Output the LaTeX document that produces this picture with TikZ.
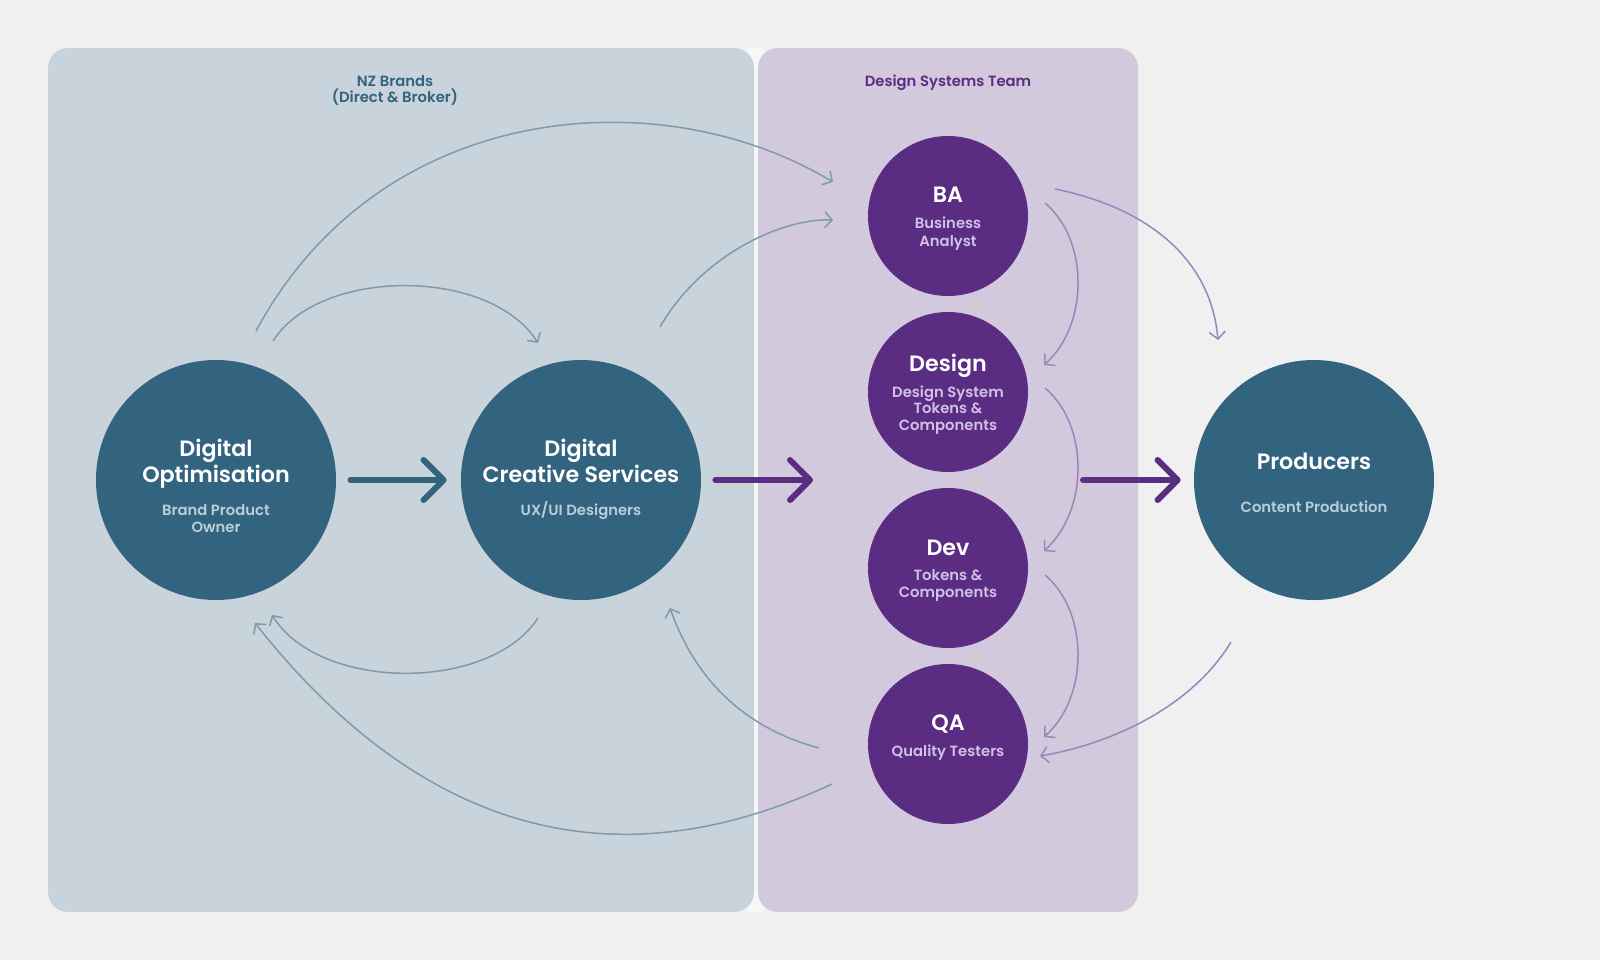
\documentclass[tikz,border=0pt]{standalone}
\usepackage{fontspec}
\usetikzlibrary{arrows.meta,calc}
\IfFontExistsTF{Poppins SemiBold}{\newfontfamily\semibf{Poppins SemiBold}}{\newfontfamily\semibx{Poppins}\newcommand\semibf{\semibx\bfseries}}
\IfFontExistsTF{Poppins Medium}{\newfontfamily\medf{Poppins Medium}}{\newfontfamily\medf{Poppins}}
\definecolor{bgc}{HTML}{F0F0F0}
\definecolor{gapc}{HTML}{F6F7F7}
\definecolor{lpanel}{HTML}{C9D3DB}
\definecolor{ppanel}{HTML}{D3C9DC}
\definecolor{tealc}{HTML}{33647F}
\definecolor{purpc}{HTML}{5A2C82}
\definecolor{thinb}{HTML}{7E9AAC}
\definecolor{thinp}{HTML}{9B85BB}
\definecolor{tsub}{HTML}{BACDDA}
\definecolor{psub}{HTML}{D2C0E6}
\tikzset{
  tcirc/.style={circle,fill=tealc,minimum size=120pt,inner sep=0pt,draw=none},
  pcirc/.style={circle,fill=purpc,minimum size=80pt,inner sep=0pt,draw=none},
  ttl/.style={anchor=base,inner sep=0pt,text=white,font=\semibf\fontsize{11.1pt}{13pt}\selectfont},
  tsubt/.style={anchor=base,inner sep=0pt,text=tsub,font=\semibf\fontsize{7.4pt}{9pt}\selectfont},
  psubt/.style={anchor=base,inner sep=0pt,text=psub,font=\semibf\fontsize{7.4pt}{9pt}\selectfont},
  head/.style={anchor=base,inner sep=0pt,font=\semibf\fontsize{7.4pt}{9pt}\selectfont},
  thinblue/.style={draw=thinb,line width=0.75pt,-{Straight Barb[length=3.6pt,width=8pt]}},
  thinpurp/.style={draw=thinp,line width=0.75pt,-{Straight Barb[length=3.6pt,width=8pt]}},
  thickarr/.style={line width=3pt,line cap=round,-{Straight Barb[length=10pt,width=20pt,round]}},
}
\begin{document}
\begin{tikzpicture}[x=0.5pt,y=-0.5pt]
\fill[bgc] (0,0) rectangle (1600,960);
\useasboundingbox (0,0) rectangle (1600,960);
% panels
\fill[gapc] (748,48) rectangle (764,912);
\fill[lpanel,rounded corners=10pt] (48,48) rectangle (754,912);
\fill[ppanel,rounded corners=10pt] (758,48) rectangle (1138,912);
% headings
\node[head,text=tealc] (h1a) at (395,86) {NZ Brands};
\node[head,text=tealc] (h1b) at (395,102) {(Direct \& Broker)};
\node[head,text=purpc] (h2) at (948,86) {Design Systems Team};
% circles
\node[tcirc] (do) at (216,480) {};
\node[tcirc] (dcs) at (581,480) {};
\node[tcirc] (prod) at (1314,480) {};
\node[pcirc] (ba) at (948,216) {};
\node[pcirc] (des) at (948,392) {};
\node[pcirc] (dev) at (948,568) {};
\node[pcirc] (qa) at (948,744) {};
% circle texts
\node[ttl] (do1) at (216,456) {Digital};
\node[ttl] (do2) at (216,482) {Optimisation};
\node[tsubt] (do3) at (216,515) {Brand Product};
\node[tsubt] (do4) at (216,532) {Owner};
\node[ttl] (dcs1) at (581,456) {Digital};
\node[ttl] (dcs2) at (581,482) {Creative Services};
\node[tsubt] (dcs3) at (581,515) {UX/UI Designers};
\node[ttl] (prod1) at (1314,469) {Producers};
\node[tsubt] (prod2) at (1314,512) {Content Production};
\node[ttl] (ba1) at (948,202) {BA};
\node[psubt] (ba2) at (948,228) {Business};
\node[psubt] (ba3) at (948,246) {Analyst};
\node[ttl] (des1) at (948,371) {Design};
\node[psubt] (des2) at (948,397) {Design System};
\node[psubt] (des3) at (948,413) {Tokens \&};
\node[psubt] (des4) at (948,430) {Components};
\node[ttl] (dev1) at (948,555) {Dev};
\node[psubt] (dev2) at (948,580) {Tokens \&};
\node[psubt] (dev3) at (948,597) {Components};
\node[ttl] (qa1) at (948,730) {QA};
\node[psubt] (qa2) at (948,756) {Quality Testers};
% connector end points
\coordinate (a1s) at (256,331);
\coordinate (a1e) at (833,182);
\coordinate (a2s) at (273,341);
\coordinate (a2e) at (538,343);
\coordinate (a3s) at (660,327);
\coordinate (a3e) at (833,220);
\coordinate (a4s) at (538,618);
\coordinate (a4e) at (272,615);
\coordinate (a5s) at (832,784);
\coordinate (a5e) at (255,623);
\coordinate (a6s) at (819,748);
\coordinate (a6e) at (670,608);
\coordinate (p1s) at (1055,189);
\coordinate (p1e) at (1218,340);
\coordinate (p2s) at (1045,203);
\coordinate (p2e) at (1044,365);
\coordinate (p3s) at (1045,388);
\coordinate (p3e) at (1044,551);
\coordinate (p4s) at (1045,575);
\coordinate (p4e) at (1044,737);
\coordinate (p5s) at (1231,642);
\coordinate (p5e) at (1040,756);
\coordinate (t2e) at (813,480);
\coordinate (t3s) at (1083,480);
% thin blue connectors
\draw[thinblue] (a1s) .. controls (380,100) and (660,78) .. (a1e);
\draw[thinblue] (a2s) .. controls (320,267) and (490,267) .. (a2e);
\draw[thinblue] (a3s) .. controls (700,257) and (780,218) .. (a3e);
\draw[thinblue] (a4s) .. controls (490,692) and (320,692) .. (a4e);
\draw[thinblue] (a5s) .. controls (690,850) and (470,895) .. (a5e);
\draw[thinblue] (a6s) .. controls (759,732) and (700,693) .. (a6e);
% thin purple connectors
\draw[thinpurp] (p1s) .. controls (1135,205) and (1210,250) .. (p1e);
\draw[thinpurp] (p2s) .. controls (1089,240) and (1089,325) .. (p2e);
\draw[thinpurp] (p3s) .. controls (1089,425) and (1089,510) .. (p3e);
\draw[thinpurp] (p4s) .. controls (1089,612) and (1089,697) .. (p4e);
\draw[thinpurp] (p5s) .. controls (1191,708) and (1110,744) .. (p5e);
% thick arrows
\draw[thickarr,draw=tealc] (do.east) ++(14,0) -- ($(dcs.west)+(-14,0)$);
\draw[thickarr,draw=purpc] ($(dcs.east)+(14,0)$) -- (t2e);
\draw[thickarr,draw=purpc] (t3s) -- ($(prod.west)+(-13,0)$);
\end{tikzpicture}
\end{document}
